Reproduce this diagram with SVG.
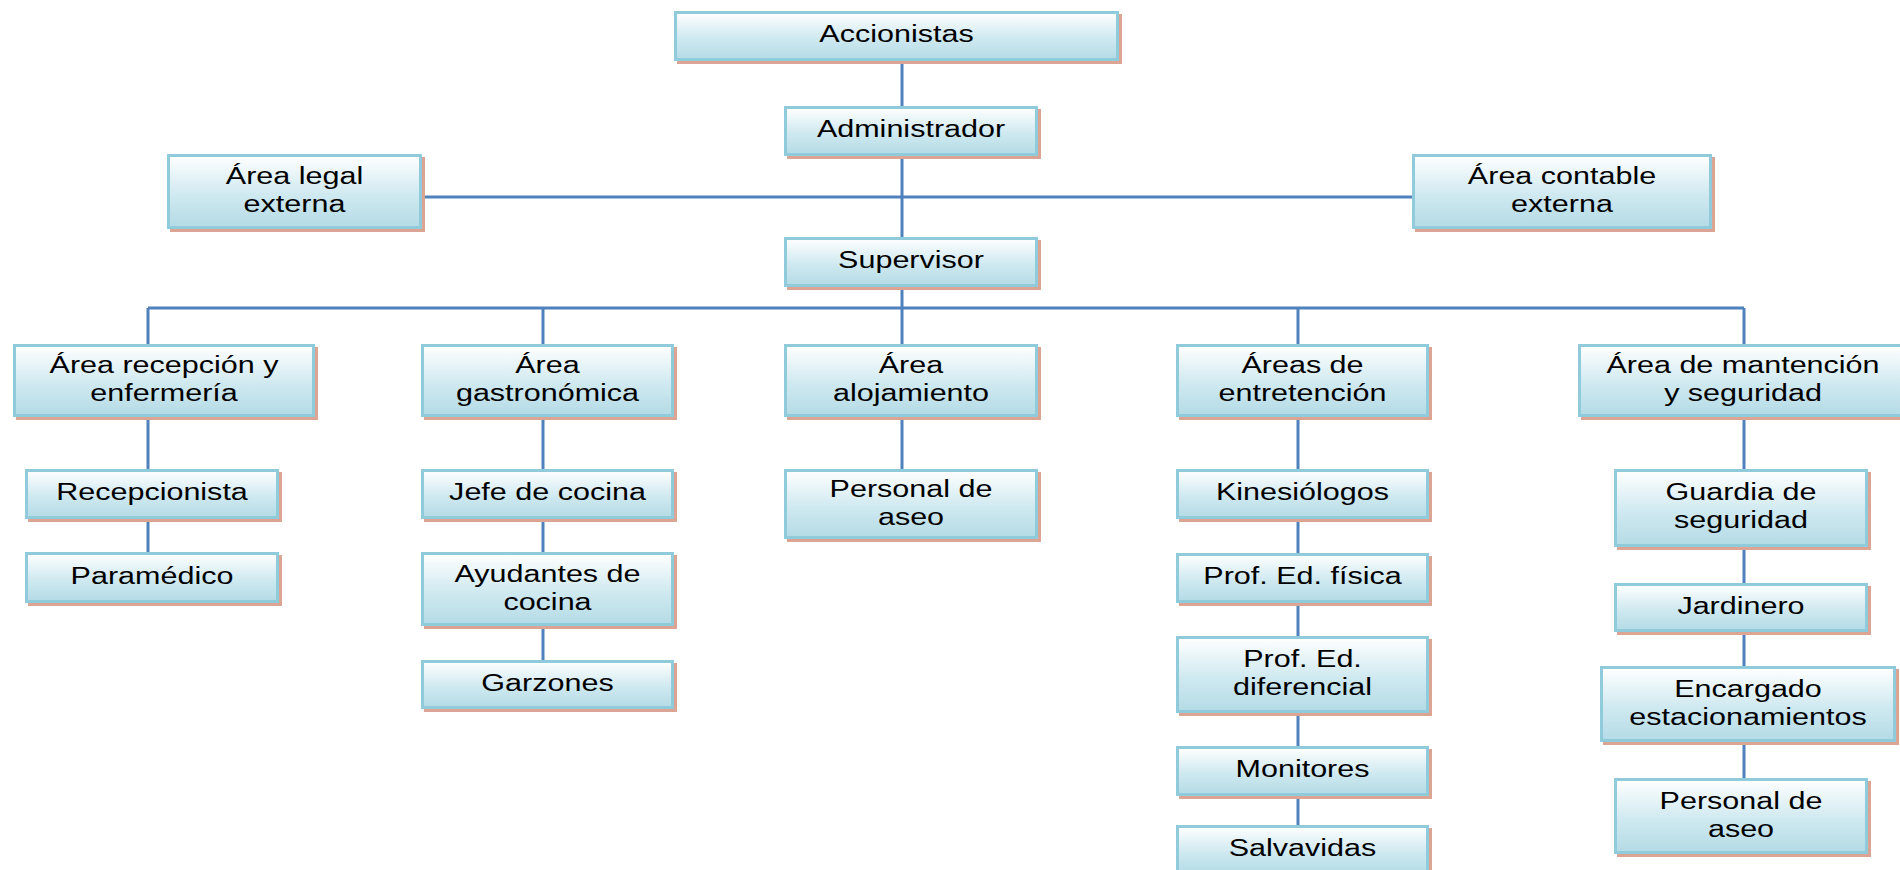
<svg xmlns="http://www.w3.org/2000/svg" width="1900" height="870" viewBox="0 0 1900 870">
<defs>
<linearGradient id="g" x1="0" y1="0" x2="0" y2="1">
<stop offset="0" stop-color="#FFFFFF"/>
<stop offset="0.55" stop-color="#CFE9F0"/>
<stop offset="1" stop-color="#B4DBE6"/>
</linearGradient>
</defs>
<style>
.sh{fill:#DCA593}
.bx{fill:url(#g);stroke:#8FCBDA;stroke-width:3}
.t{font-family:"Liberation Sans",Arial,sans-serif;font-size:23.3px;fill:#000;text-anchor:middle}
.c{stroke:#4F81BD;stroke-width:3;fill:none}
</style>
<rect width="1900" height="870" fill="#FFFFFF"/>
<g id="connectors" class="c">
<path d="M902 61V106M902 156V237M422 197H1412M902 287V308M148 308H1744M148 308V344M543 308V344M902 308V344M1298 308V344M1744 308V344"/>
<path d="M148 417V469M148 519V552"/>
<path d="M543 417V469M543 519V552M543 626V660"/>
<path d="M902 417V469"/>
<path d="M1298 417V469M1298 519V553M1298 603V636M1298 713V746M1298 796V825"/>
<path d="M1744 417V469M1744 547V583M1744 632V666M1744 742V778"/>
</g>
<g id="n1"><rect class="sh" x="677" y="14" width="445" height="50"/><rect class="bx" x="675.5" y="12.5" width="442" height="47"/><text class="t" transform="translate(896.5,42) scale(1.31,1)">Accionistas</text></g>
<g id="n2"><rect class="sh" x="787" y="109" width="254" height="50"/><rect class="bx" x="785.5" y="107.5" width="251" height="47"/><text class="t" transform="translate(911,137) scale(1.31,1)">Administrador</text></g>
<g id="n3"><rect class="sh" x="170" y="157" width="255" height="75"/><rect class="bx" x="168.5" y="155.5" width="252" height="72"/><text class="t" transform="translate(294.5,184) scale(1.31,1)"><tspan x="0">Área legal</tspan><tspan x="0" dy="28.5">externa</tspan></text></g>
<g id="n4"><rect class="sh" x="1415" y="157" width="300" height="75"/><rect class="bx" x="1413.5" y="155.5" width="297" height="72"/><text class="t" transform="translate(1562,184) scale(1.31,1)"><tspan x="0">Área contable</tspan><tspan x="0" dy="28.5">externa</tspan></text></g>
<g id="n5"><rect class="sh" x="787" y="240" width="254" height="50"/><rect class="bx" x="785.5" y="238.5" width="251" height="47"/><text class="t" transform="translate(911,268) scale(1.31,1)">Supervisor</text></g>
<g id="n6"><rect class="sh" x="16" y="347" width="302" height="73"/><rect class="bx" x="14.5" y="345.5" width="299" height="70"/><text class="t" transform="translate(164,373) scale(1.31,1)"><tspan x="0">Área recepción y</tspan><tspan x="0" dy="28.5">enfermería</tspan></text></g>
<g id="n7"><rect class="sh" x="424" y="347" width="253" height="73"/><rect class="bx" x="422.5" y="345.5" width="250" height="70"/><text class="t" transform="translate(547.5,373) scale(1.31,1)"><tspan x="0">Área</tspan><tspan x="0" dy="28.5">gastronómica</tspan></text></g>
<g id="n8"><rect class="sh" x="787" y="347" width="254" height="73"/><rect class="bx" x="785.5" y="345.5" width="251" height="70"/><text class="t" transform="translate(911,373) scale(1.31,1)"><tspan x="0">Área</tspan><tspan x="0" dy="28.5">alojamiento</tspan></text></g>
<g id="n9"><rect class="sh" x="1179" y="347" width="253" height="73"/><rect class="bx" x="1177.5" y="345.5" width="250" height="70"/><text class="t" transform="translate(1302.5,373) scale(1.31,1)"><tspan x="0">Áreas de</tspan><tspan x="0" dy="28.5">entretención</tspan></text></g>
<g id="n10"><rect class="sh" x="1581" y="347" width="330" height="73"/><rect class="bx" x="1579.5" y="345.5" width="327" height="70"/><text class="t" transform="translate(1743,373) scale(1.31,1)"><tspan x="0">Área de mantención</tspan><tspan x="0" dy="28.5">y seguridad</tspan></text></g>
<g id="n11"><rect class="sh" x="28" y="472" width="254" height="50"/><rect class="bx" x="26.5" y="470.5" width="251" height="47"/><text class="t" transform="translate(152,500) scale(1.31,1)">Recepcionista</text></g>
<g id="n12"><rect class="sh" x="28" y="555" width="254" height="51"/><rect class="bx" x="26.5" y="553.5" width="251" height="48"/><text class="t" transform="translate(152,583.5) scale(1.31,1)">Paramédico</text></g>
<g id="n13"><rect class="sh" x="424" y="472" width="253" height="50"/><rect class="bx" x="422.5" y="470.5" width="250" height="47"/><text class="t" transform="translate(547.5,500) scale(1.31,1)">Jefe de cocina</text></g>
<g id="n14"><rect class="sh" x="424" y="555" width="253" height="74"/><rect class="bx" x="422.5" y="553.5" width="250" height="71"/><text class="t" transform="translate(547.5,581.5) scale(1.31,1)"><tspan x="0">Ayudantes de</tspan><tspan x="0" dy="28.5">cocina</tspan></text></g>
<g id="n15"><rect class="sh" x="424" y="663" width="253" height="49"/><rect class="bx" x="422.5" y="661.5" width="250" height="46"/><text class="t" transform="translate(547.5,690.5) scale(1.31,1)">Garzones</text></g>
<g id="n16"><rect class="sh" x="787" y="472" width="254" height="70"/><rect class="bx" x="785.5" y="470.5" width="251" height="67"/><text class="t" transform="translate(911,497) scale(1.31,1)"><tspan x="0">Personal de</tspan><tspan x="0" dy="28.5">aseo</tspan></text></g>
<g id="n17"><rect class="sh" x="1179" y="472" width="253" height="50"/><rect class="bx" x="1177.5" y="470.5" width="250" height="47"/><text class="t" transform="translate(1302.5,500) scale(1.31,1)">Kinesiólogos</text></g>
<g id="n18"><rect class="sh" x="1179" y="556" width="253" height="50"/><rect class="bx" x="1177.5" y="554.5" width="250" height="47"/><text class="t" transform="translate(1302.5,584) scale(1.31,1)">Prof. Ed. física</text></g>
<g id="n19"><rect class="sh" x="1179" y="639" width="253" height="77"/><rect class="bx" x="1177.5" y="637.5" width="250" height="74"/><text class="t" transform="translate(1302.5,666.5) scale(1.31,1)"><tspan x="0">Prof. Ed.</tspan><tspan x="0" dy="28.5">diferencial</tspan></text></g>
<g id="n20"><rect class="sh" x="1179" y="749" width="253" height="50"/><rect class="bx" x="1177.5" y="747.5" width="250" height="47"/><text class="t" transform="translate(1302.5,777) scale(1.31,1)">Monitores</text></g>
<g id="n21"><rect class="sh" x="1179" y="828" width="253" height="50"/><rect class="bx" x="1177.5" y="826.5" width="250" height="47"/><text class="t" transform="translate(1302.5,856) scale(1.31,1)">Salvavidas</text></g>
<g id="n22"><rect class="sh" x="1617" y="472" width="254" height="78"/><rect class="bx" x="1615.5" y="470.5" width="251" height="75"/><text class="t" transform="translate(1741,500) scale(1.31,1)"><tspan x="0">Guardia de</tspan><tspan x="0" dy="28.5">seguridad</tspan></text></g>
<g id="n23"><rect class="sh" x="1617" y="586" width="254" height="49"/><rect class="bx" x="1615.5" y="584.5" width="251" height="46"/><text class="t" transform="translate(1741,613.5) scale(1.31,1)">Jardinero</text></g>
<g id="n24"><rect class="sh" x="1603" y="669" width="296" height="76"/><rect class="bx" x="1601.5" y="667.5" width="293" height="73"/><text class="t" transform="translate(1748,696.5) scale(1.31,1)"><tspan x="0">Encargado</tspan><tspan x="0" dy="28.5">estacionamientos</tspan></text></g>
<g id="n25"><rect class="sh" x="1617" y="781" width="254" height="76"/><rect class="bx" x="1615.5" y="779.5" width="251" height="73"/><text class="t" transform="translate(1741,808.5) scale(1.31,1)"><tspan x="0">Personal de</tspan><tspan x="0" dy="28.5">aseo</tspan></text></g>
</svg>
